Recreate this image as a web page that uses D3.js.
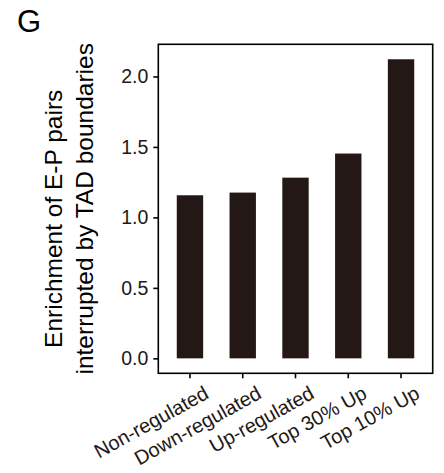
<!DOCTYPE html>
<html>
<head>
<meta charset="utf-8">
<script src="https://cdn.jsdelivr.net/npm/d3@7"></script>
<style>
  html, body { margin: 0; padding: 0; background: #fff; }
  svg { display: block; font-family: "Liberation Sans", Arial, Helvetica, sans-serif; }
</style>
</head>
<body>
<svg id="chart" width="444" height="473"></svg>
<script>
const categories = ["Non-regulated", "Down-regulated", "Up-regulated", "Top 30% Up", "Top 10% Up"];
const values = [1.157, 1.176, 1.282, 1.453, 2.122];
const yTicks = [0, 0.5, 1.0, 1.5, 2.0];
const yTitleLines = ["Enrichment of E-P pairs", "interrupted by TAD boundaries"];
const panelLabel = "G";

const svg = d3.select("#chart");
const panel = { left: 158.3, right: 432.7, top: 44.3, bottom: 373.3 };
const barColor = "#231815";
const textColor = "#231815";

const yMax = d3.max(values);
const yPad = yMax * 0.05;
const y = d3.scaleLinear().domain([-yPad, yMax + yPad]).range([panel.bottom, panel.top]);
const x = d3.scaleBand().domain(categories).range([panel.left, panel.right])
  .paddingInner(0.5).paddingOuter(0.35);

// bars
svg.append("g").selectAll("rect").data(values).join("rect")
  .attr("x", (d, i) => x(categories[i]))
  .attr("width", x.bandwidth())
  .attr("y", d => y(d))
  .attr("height", d => y(0) - y(d))
  .attr("fill", barColor);

// panel border
svg.append("rect")
  .attr("x", panel.left).attr("y", panel.top)
  .attr("width", panel.right - panel.left).attr("height", panel.bottom - panel.top)
  .attr("fill", "none").attr("stroke", "#000").attr("stroke-width", 1.6);

// y axis
const yAxis = d3.axisLeft(y).tickValues(yTicks).tickFormat(d3.format(".1f")).tickSize(5).tickPadding(5);
const gy = svg.append("g").attr("transform", `translate(${panel.left},0)`).call(yAxis);
gy.select(".domain").remove();
gy.selectAll(".tick line").attr("stroke", "#000").attr("stroke-width", 1.6);
gy.selectAll(".tick text").attr("fill", textColor).style("font-size", "19.5px");

// x axis
const xAxis = d3.axisBottom(x).tickSize(5).tickPadding(4);
const gx = svg.append("g").attr("transform", `translate(0,${panel.bottom})`).call(xAxis);
gx.select(".domain").remove();
gx.selectAll(".tick line").attr("stroke", "#000").attr("stroke-width", 1.6);
gx.selectAll(".tick text")
  .attr("fill", textColor)
  .style("font-size", "20px")
  .attr("text-anchor", "end")
  .attr("dy", null)
  .attr("y", null)
  .attr("transform", "translate(20,24) rotate(-29)");

// y title
const yTitle = svg.append("text")
  .attr("transform", `translate(0,${(panel.top + panel.bottom) / 2}) rotate(-90)`)
  .attr("text-anchor", "middle")
  .attr("fill", "#000")
  .style("font-size", "24.5px");
yTitle.selectAll("tspan").data(yTitleLines).join("tspan")
  .attr("x", (d, i) => i === 0 ? -10 : 0)
  .attr("y", (d, i) => 62 + i * 31)
  .text(d => d);

// panel label
svg.append("text")
  .attr("x", 17).attr("y", 32)
  .attr("fill", "#000")
  .style("font-size", "31px")
  .text(panelLabel);
</script>
</body>
</html>
